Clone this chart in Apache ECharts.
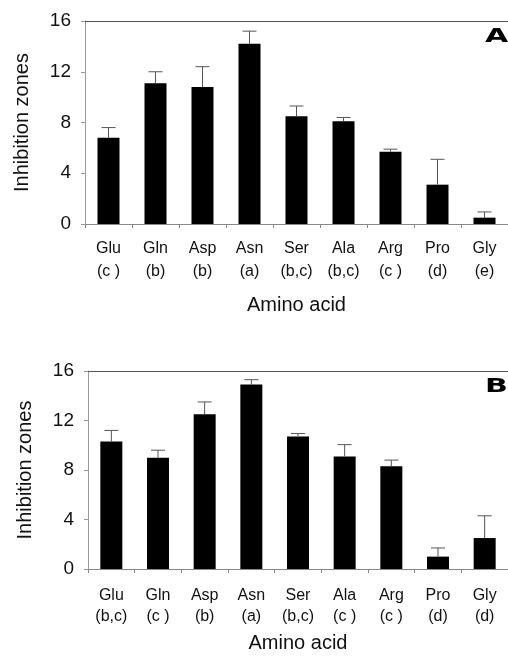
<!DOCTYPE html>
<html>
<head>
<meta charset="utf-8">
<script src="https://cdn.jsdelivr.net/npm/echarts@6/dist/echarts.min.js"></script>
<style>
html,body{margin:0;padding:0;background:#fff;}
#c{width:508px;height:660px;}
</style>
</head>
<body>
<div id="c"></div>
<script>
const categories = ['Glu','Gln','Asp','Asn','Ser','Ala','Arg','Pro','Gly'];
const groupsA = ['(c )','(b)','(b)','(a)','(b,c)','(b,c)','(c )','(d)','(e)'];
const groupsB = ['(b,c)','(c )','(b)','(a)','(b,c)','(c )','(c )','(d)','(d)'];
const valuesA = [6.8, 11.1, 10.8, 14.2, 8.5, 8.1, 5.7, 3.1, 0.5];
const errorsA = [0.8, 0.9, 1.6, 1.0, 0.8, 0.3, 0.2, 2.0, 0.45];
const valuesB = [10.3, 9.0, 12.5, 14.9, 10.7, 9.1, 8.3, 1.0, 2.5];
const errorsB = [0.9, 0.6, 1.0, 0.4, 0.25, 0.95, 0.5, 0.7, 1.8];
const yTicks = [0, 4, 8, 12, 16];
const panelLabels = ['A', 'B'];

const FONT = '"Liberation Sans", Arial, sans-serif';
const chart = echarts.init(document.getElementById('c'), null, {renderer: 'canvas'});

function errSeries(idx, vals, errs) {
  return {
    type: 'custom',
    xAxisIndex: idx * 2, yAxisIndex: idx,
    z: 3,
    data: vals.map((v, i) => [i, v, v + errs[i]]),
    renderItem: function (params, api) {
      const base = api.coord([api.value(0), api.value(1)]);
      const top = api.coord([api.value(0), api.value(2)]);
      const w = 7;
      const st = {stroke: '#555', lineWidth: 1};
      return {
        type: 'group',
        children: [
          {type: 'line', shape: {x1: base[0], y1: base[1], x2: top[0], y2: top[1]}, style: st},
          {type: 'line', shape: {x1: top[0] - w, y1: top[1], x2: top[0] + w, y2: top[1]}, style: st}
        ]
      };
    }
  };
}

function xAxes(gi, groups, margin, lh, nameGap) {
  return [{
    type: 'category', gridIndex: gi, position: 'bottom',
    data: categories.map((c, i) => c + '\n' + groups[i]),
    boundaryGap: true,
    axisLine: {show: true, lineStyle: {color: '#888', width: 1}},
    axisTick: {show: true, length: 4, inside: false, lineStyle: {color: '#888'}},
    axisLabel: {margin: margin, fontFamily: FONT, fontSize: 16, color: '#111', lineHeight: lh, interval: 0},
    name: 'Amino acid', nameLocation: 'middle', nameGap: nameGap,
    nameTextStyle: {fontFamily: FONT, fontSize: 20, color: '#111'}
  }, {
    type: 'category', gridIndex: gi, position: 'top',
    data: categories,
    axisLine: {show: true, lineStyle: {color: '#555', width: 1}},
    axisTick: {show: false}, axisLabel: {show: false}
  }];
}

function yAxis(gi, nameGap) {
  return {
    type: 'value', gridIndex: gi, min: yTicks[0], max: yTicks[yTicks.length - 1], interval: 4,
    axisLine: {show: true, lineStyle: {color: '#999', width: 1}},
    axisTick: {show: true, length: 4, lineStyle: {color: '#999'}},
    splitLine: {show: false},
    axisLabel: {margin: 14, fontFamily: FONT, fontSize: 19, color: '#111'},
    name: 'Inhibition zones', nameLocation: 'middle', nameGap: nameGap,
    nameTextStyle: {fontFamily: FONT, fontSize: 20, color: '#111'}
  };
}

const option = {
  backgroundColor: '#fff',
  animation: false,
  grid: [
    {left: 85, top: 21, width: 427, height: 203},
    {left: 88, top: 371, width: 426, height: 198}
  ],
  xAxis: [].concat(xAxes(0, groupsA, 13, 23, 71), xAxes(1, groupsB, 16, 21, 64)),
  yAxis: [yAxis(0, 53), yAxis(1, 53)],
  series: [
    {type: 'bar', xAxisIndex: 0, yAxisIndex: 0, data: valuesA, barWidth: 22, itemStyle: {color: '#000'}, z: 2},
    errSeries(0, valuesA, errorsA),
    {type: 'bar', xAxisIndex: 2, yAxisIndex: 1, data: valuesB, barWidth: 22, itemStyle: {color: '#000'}, z: 2},
    errSeries(1, valuesB, errorsB)
  ],
  graphic: [
    {type: 'text', x: 485, y: 27, scaleX: 1.5, style: {text: panelLabels[0], font: '900 20px "DejaVu Sans"', fill: '#000'}},
    {type: 'text', x: 485, y: 377, scaleX: 1.5, style: {text: panelLabels[1], font: '900 20px "DejaVu Sans"', fill: '#000'}}
  ]
};
chart.setOption(option);
</script>
</body>
</html>
